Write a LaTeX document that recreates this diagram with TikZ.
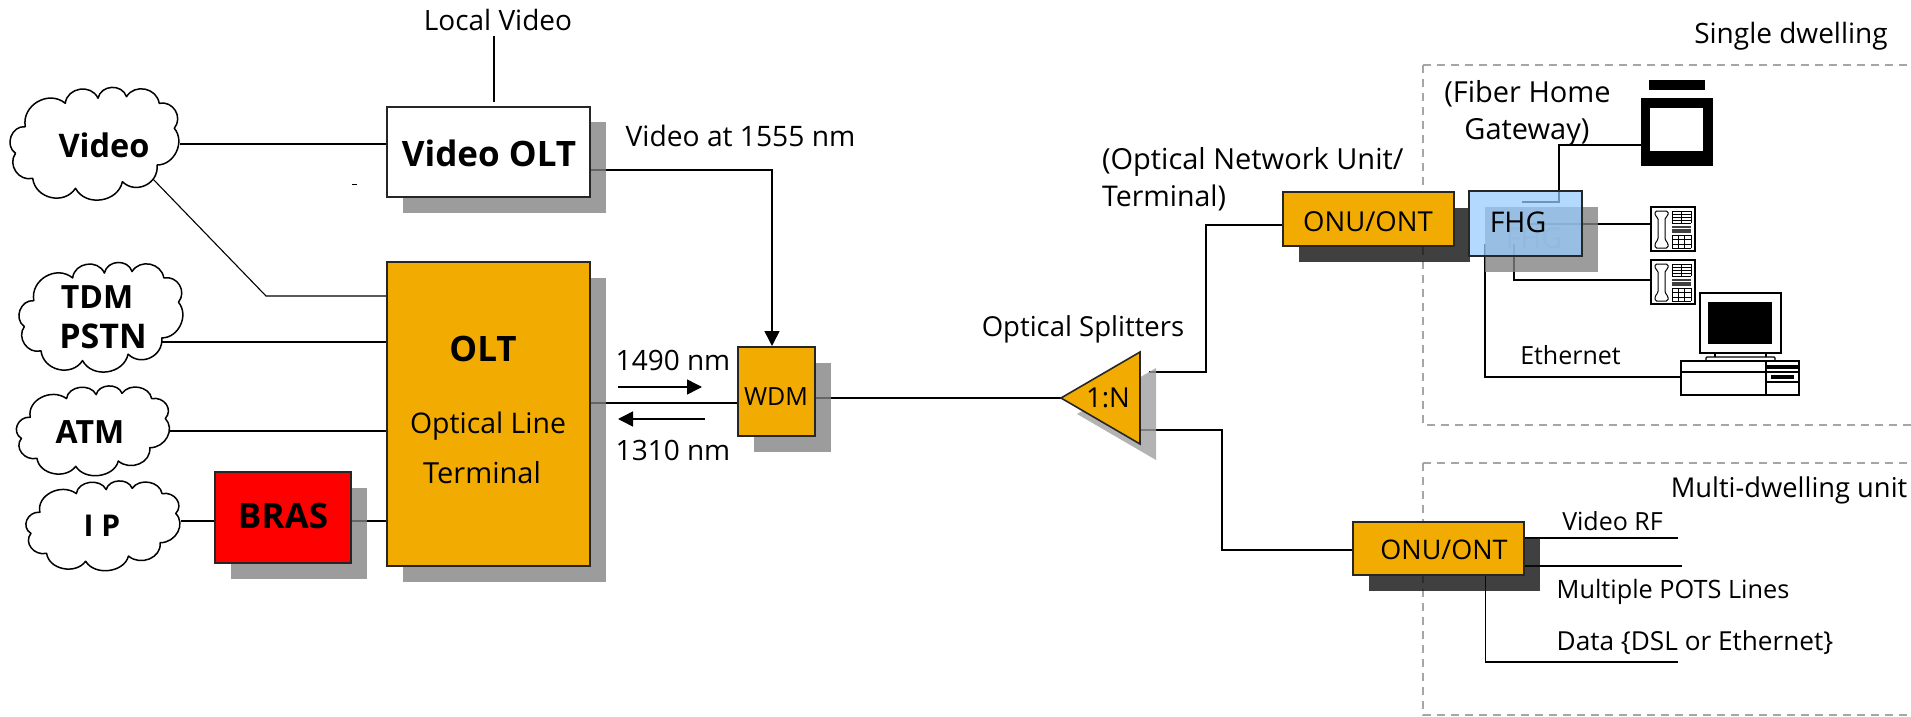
\documentclass[tikz,border=0pt]{standalone}
\usepackage{fontspec}
\setmainfont{Open Sans}
\usetikzlibrary{arrows.meta}
\definecolor{orangebox}{RGB}{242,171,0}
\definecolor{fhgblue}{RGB}{151,203,255}
\definecolor{shadowgray}{RGB}{129,129,129}
\definecolor{shadowdark}{RGB}{13,13,13}
\definecolor{shadowlight}{RGB}{159,159,159}
\definecolor{dashgray}{RGB}{166,166,166}
\tikzset{
  fs/.style={font=\fontsize{#1}{#1}\selectfont},
  bfs/.style={font=\fontsize{#1}{#1}\selectfont\bfseries},
  lbl/.style={inner sep=0pt,outer sep=0pt,fs=28,anchor=center},
  blbl/.style={inner sep=0pt,outer sep=0pt,bfs=32,anchor=center},
  box/.style={draw=black!85,line width=1.6pt,inner sep=0pt,outer sep=0pt},
  orange/.style={box,fill=orangebox},
  shad/.style={fill=shadowgray,fill opacity=.79,draw=none},
  shaddark/.style={fill=shadowdark,fill opacity=.79,draw=none},
  shadlight/.style={fill=shadowlight,fill opacity=.79,draw=none},
  conn/.style={draw=black,line width=1.5pt},
  dashbox/.style={draw=dashgray,line width=1.6pt,dash pattern=on 8pt off 6pt},
  arr/.style={conn,-{Triangle[length=15pt,width=15pt]}},
  cloudline/.style={draw=black,line width=1.5pt,fill=white,line join=round},
  icon/.style={inner sep=0pt,outer sep=0pt,draw=none},
}
% cloud outline: centre x, y, half width, half height
\newcommand\cloudoutline[4]{%
  \path[cloudline,shift={(#1,#2)},xscale=#3/85.5,yscale=#4/54]
    (-79,9.3) to[bend left=75,looseness=1.25] (-69.2,-17.3)
    to[bend left=70,looseness=1.2] (-29.2,-40.7)
    to[bend left=75,looseness=1.25] (3.5,-45.7)
    to[bend left=75,looseness=1.25] (32,-47.3)
    to[bend left=70,looseness=1.2] (64.7,-40.7)
    to[bend left=70,looseness=1.25] (79.8,-15.7)
    to[bend left=65,looseness=1.1] (62.6,21)
    to[bend left=70,looseness=1.25] (27.9,37.7)
    to[bend left=70,looseness=1.15] (-19,44.3)
    to[bend left=70,looseness=1.2] (-61.8,34.3)
    to[bend left=70,looseness=1.2] cycle;}
% desk telephone, #1 = left, #2 = top
\newcommand\phoneicon[2]{%
  \begin{scope}[shift={(#1,#2)}]
    \draw[line width=1.2pt,fill=white] (0,0) rectangle (44,44);
    \draw[line width=1pt,rounded corners=1.6pt] (4,4) -- (17,4) -- (17,9) -- (14,10.5) -- (14,33) -- (17,36) -- (17,41) -- (4,41) -- (4,36) -- (7,33) -- (7,10.5) -- (4,9) -- cycle;
    \foreach \r in {4,7,10,13,16} {\draw[line width=.8pt] (21,\r) -- (40,\r);}
    \draw[line width=.8pt] (21,4) -- (21,16) (30,4) -- (30,16) (40,4) -- (40,16);
    \fill[black!75] (20.5,19) rectangle (40,26);
    \draw[white,line width=.6pt] (20.5,21.5) -- (40,21.5);
    \foreach \r in {28,32.5,37,41} {\draw[line width=.8pt] (21,\r) -- (40,\r);}
    \draw[line width=.8pt] (21,28) -- (21,41) (27,28) -- (27,41) (33,28) -- (33,41) (40,28) -- (40,41);
  \end{scope}}
\begin{document}
\begin{tikzpicture}[x=1pt,y=-1pt]
\useasboundingbox (0,0) rectangle (1911,717);
% dwelling frames
\draw[dashbox] (1423,65) -- (1925,65) (1423,65) -- (1423,425) -- (1925,425);
\draw[dashbox] (1423,463) -- (1925,463) (1423,463) -- (1423,715) -- (1925,715);
% named anchors on the clouds and free line ends
\coordinate (cvideoE) at (180,144);
\coordinate (cvideoS) at (151,177);
\coordinate (bendv) at (266,296);
\coordinate (ctdmE) at (162,342);
\coordinate (catmE) at (170,431);
\coordinate (cipE) at (181,521);
\coordinate (lvtop) at (494,36);
\coordinate (lvbot) at (494,102);
\coordinate (olttap) at (590,170);
\coordinate (wdmbend) at (772,170);
\coordinate (wdmtop) at (772,346);
\coordinate (splitA) at (1149,372);
\coordinate (splitB) at (1140,430);
\coordinate (splitT) at (1061,398);
\coordinate (tvbend) at (1559,145);
\coordinate (fhgtv) at (1522,202);
\coordinate (fhgp1) at (1527,224);
\coordinate (fhgp2) at (1514,244);
\coordinate (fhgeth) at (1485,244);
\coordinate (vrf) at (1678,538);
\coordinate (pots) at (1682,566);
\coordinate (dataend) at (1678,662);
\coordinate (a1s) at (618,387);
\coordinate (a1e) at (702,387);
\coordinate (a2s) at (705,419);
\coordinate (a2e) at (618,419);
% invisible named geometry of the boxes
\path node[icon,minimum width=203pt,minimum height=90pt] (volt) at (488.5,152) {}
      node[icon,minimum width=203pt,minimum height=304pt] (olt) at (488.5,414) {}
      node[icon,minimum width=136pt,minimum height=91pt] (bras) at (283,517.5) {}
      node[icon,minimum width=77pt,minimum height=89pt] (wdm) at (776.5,391.5) {}
      node[icon,minimum width=171pt,minimum height=54pt] (onua) at (1368.5,219) {}
      node[icon,minimum width=171pt,minimum height=53pt] (onub) at (1438.5,548.5) {}
      node[icon,minimum width=113pt,minimum height=65pt] (fhg) at (1525.5,223.5) {}
      node[icon,minimum width=72pt,minimum height=68pt] (tv) at (1677,132) {}
      node[icon,minimum width=44pt,minimum height=44pt] (ph1) at (1673,229) {}
      node[icon,minimum width=44pt,minimum height=44pt] (ph2) at (1673,282) {}
      node[icon,minimum width=118pt,minimum height=34pt] (pc) at (1740,378) {};
% connectors
\draw[conn] (cvideoE) -- (cvideoE -| volt.west);
\draw[conn,line width=1.1pt] (cvideoS) -- (bendv) -- (bendv -| olt.west);
\draw[conn] (ctdmE) -- (ctdmE -| olt.west);
\draw[conn] (catmE) -- (catmE -| olt.west);
\draw[conn] (cipE) -- (cipE -| bras.west);
\draw[conn] (cipE -| bras.east) -- (cipE -| olt.west);
\draw[conn] (lvtop) -- (lvbot);
\draw[arr] (olttap) -- (wdmbend) -- (wdmtop);
\draw[conn] (olt.east |- 0,403) -- (wdm.west |- 0,403);
\draw[conn] (wdm.east |- splitT) -- (splitT);
\draw[conn] (splitA) -- (1206,372) -- (1206,225) -- (onua.west |- 0,225);
\draw[conn] (splitB) -- (1222,430) -- (1222,550) -- (onub.west |- 0,550);
\draw[conn] (tv.west |- tvbend) -- (tvbend) -- (1559,202) -- (fhgtv);
\draw[conn] (fhgp1) -- (fhgp1 -| ph1.west);
\draw[conn] (fhgp2) -- (1514,280) -- (ph2.west |- 0,280);
\draw[conn] (fhgeth) -- (1485,377) -- (pc.west |- 0,377);
\draw[conn] (onub.east |- vrf) -- (vrf);
\draw[conn] (onub.east |- pots) -- (pots);
\draw[conn] (1485.5,575) -- (1485.5,662) -- (dataend);
\draw[line width=1pt] (352,184) -- (357,184);
% wavelength arrows
\draw[arr] (a1s) -- (a1e);
\draw[arr] (a2s) -- (a2e);
% shadows (translucent, over the lines)
\fill[shad] (403,122) rectangle (606,213);
\fill[shad] (403,278) rectangle (606,582);
\fill[shad] (231,488) rectangle (367,579);
\fill[shad] (754,363) rectangle (831,452);
\fill[shadlight] (1077,414) -- (1156,368) -- (1156,460) -- cycle;
\fill[shaddark] (1299,208) rectangle (1470,262);
\fill[shaddark] (1369,538) rectangle (1540,591);
\fill[shad] (1485,207) rectangle (1598,272);
\node[lbl,fs=28.5,text=black!45] at (1534,238) {FHG};
% clouds
\cloudoutline{94.5}{144}{85.5}{54}
\cloudoutline{101}{317.5}{83}{52.5}
\cloudoutline{93}{431}{77.5}{43}
\cloudoutline{103}{526}{78}{43}
\node[blbl,bfs=32.5] (video) at (104,145) {Video};
\node[blbl] (tdm) at (97,297) {TDM};
\node[blbl,bfs=34] (pstn) at (103,336) {PSTN};
\node[blbl] (atm) at (90,432) {ATM};
\node[blbl,bfs=30] (ip) at (102,526) {I P};
% boxes
\node[box,fill=white,minimum width=203pt,minimum height=90pt] at (volt) {};
\node[blbl,bfs=35] (voltlab) at (489,153) {Video OLT};
\node[orange,minimum width=203pt,minimum height=304pt] at (olt) {};
\node[blbl,bfs=35] (oltlab) at (483,349) {OLT};
\node[lbl,fs=28.4] (optline) at (488,426) {Optical Line};
\node[lbl,fs=29] (termlab) at (482,473) {Terminal};
\node[box,fill=red,minimum width=136pt,minimum height=91pt] at (bras) {};
\node[blbl,bfs=35] (braslab) at (283,516) {BRAS};
\node[orange,minimum width=77pt,minimum height=89pt] at (wdm) {};
\node[lbl,fs=25] (wdmlab) at (776,397) {WDM};
\draw[box,fill=orangebox,line join=miter] (splitT) -- (1140,352) -- (1140,444) -- cycle;
\node[lbl,fs=27.5] (ratio) at (1108,398) {1:N};
\node[orange,minimum width=171pt,minimum height=54pt] at (onua) {};
\node[lbl,fs=27.5] (onualab) at (1368,222) {ONU/ONT};
\node[orange,minimum width=171pt,minimum height=53pt] at (onub) {};
\node[lbl,fs=27] (onublab) at (1444,550) {ONU/ONT};
\node[box,fill=fhgblue,fill opacity=.73,minimum width=113pt,minimum height=65pt] at (fhg) {};
\node[lbl,fs=28.5] (fhglab) at (1518,222) {FHG};
% television
\fill[black] (1649,80) rectangle (1705,90);
\fill[black] (tv.north west) rectangle (tv.south east);
\fill[white] (1650,108) rectangle (1703,151);
% telephones
\phoneicon{1651}{207}
\phoneicon{1651}{260}
% computer
\draw[line width=1.2pt,fill=white] (1700,293) rectangle (1781,353);
\fill[black] (1708,302) rectangle (1772,344);
\draw[line width=1.1pt] (1715,353) -- (1715,357) (1766,353) -- (1766,357);
\draw[line width=1.1pt,rounded corners=1pt] (1706,361) -- (1706,357) -- (1775,357) -- (1775,361);
\draw[line width=1.2pt,fill=white] (pc.north west) rectangle (pc.south east);
\draw[line width=1.1pt] (pc.west |- 0,372) -- (pc.east |- 0,372) (1766,361) -- (1766,395) (1766,382) -- (1799,382);
\fill[black] (1767,365) rectangle (1798,368.5);
\fill[black] (1771,375) rectangle (1794,379);
% labels
\node[lbl] (l1) at (498,20) {Local Video};
\node[lbl,fs=28.2] (l2) at (740.5,136) {Video at 1555 nm};
\node[lbl] (l3) at (673,360) {1490 nm};
\node[lbl] (l4) at (673,450) {1310 nm};
\node[lbl,fs=27.5] (l5) at (1083,329) {Optical Splitters};
\node[lbl,fs=29,anchor=west] (l6) at (1102,162) {(Optical Network Unit/};
\node[lbl,fs=28.5,anchor=west] (l7) at (1102,198) {Terminal)};
\node[lbl,fs=29] (l8) at (1527.5,94) {(Fiber Home};
\node[lbl,fs=29] (l9) at (1527,132) {Gateway)};
\node[lbl] (l10) at (1791,36) {Single dwelling};
\node[lbl,fs=25] (l11) at (1570.5,355) {Ethernet};
\node[lbl,fs=27.3] (l12) at (1789,490) {Multi-dwelling unit};
\node[lbl,fs=25] (l13) at (1612.5,521) {Video RF};
\node[lbl,fs=25.3] (l14) at (1673,592) {Multiple POTS Lines};
\node[lbl,fs=26.2] (l15) at (1695,643) {Data \{DSL or Ethernet\}};
\end{tikzpicture}
\end{document}
